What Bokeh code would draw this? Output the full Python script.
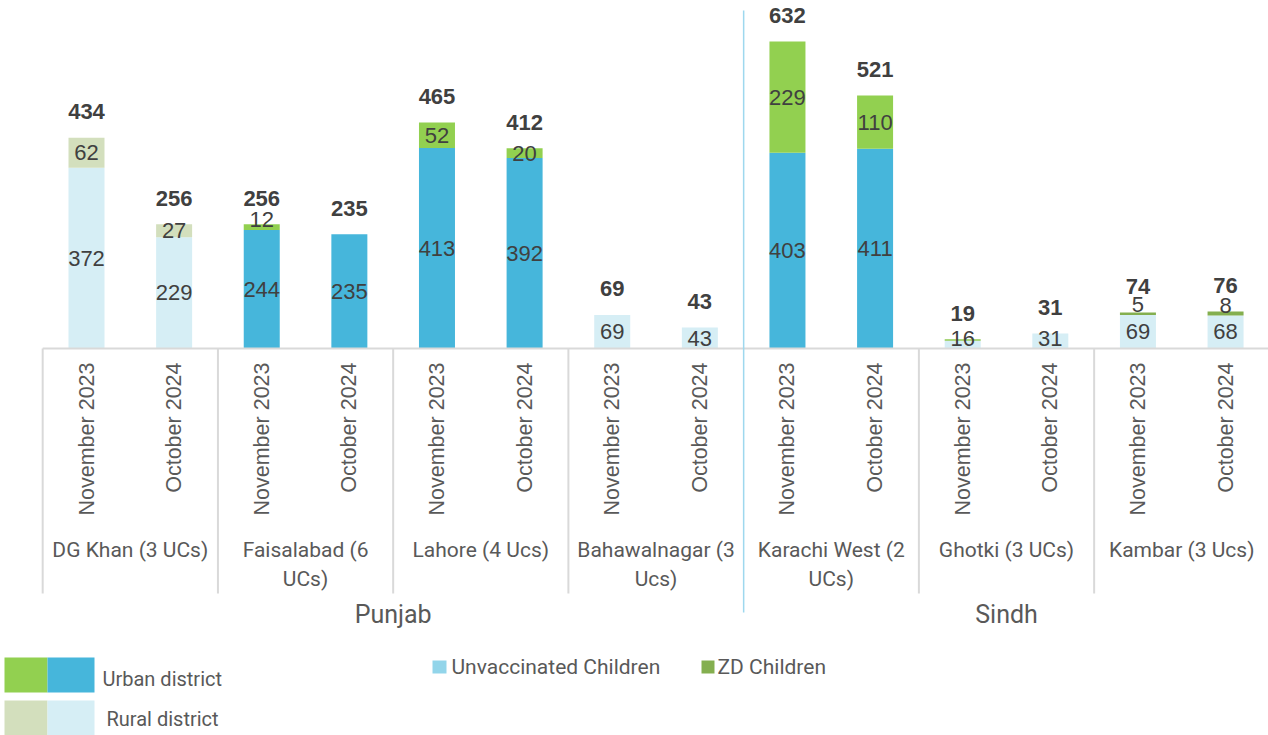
import math
from bokeh.plotting import figure
from bokeh.models import ColumnDataSource, Range1d
from bokeh.core.properties import value
from bokeh.embed import file_html
from bokeh.resources import INLINE

# ---------------- data ----------------
provinces = ["Punjab", "Sindh"]
districts = ["DG Khan (3 UCs)", "Faisalabad (6\nUCs)", "Lahore (4 Ucs)",
             "Bahawalnagar (3\nUcs)", "Karachi West (2\nUCs)", "Ghotki (3 UCs)",
             "Kambar (3 Ucs)"]
district_province = ["Punjab", "Punjab", "Punjab", "Punjab", "Sindh", "Sindh", "Sindh"]
district_type = ["Rural", "Urban", "Urban", "Rural", "Urban", "Rural", "Rural"]
periods = ["November 2023", "October 2024"]
unvaccinated = [372, 229, 244, 235, 413, 392, 69, 43, 403, 411, 16, 31, 69, 68]
zd_children = [62, 27, 12, 0, 52, 20, 0, 0, 229, 110, 3, 0, 5, 8]
totals = [434, 256, 256, 235, 465, 412, 69, 43, 632, 521, 19, 31, 74, 76]

# ---------------- styles ----------------
UNV_COLOR = {"Urban": "#46B6DB", "Rural": "#D6EEF5"}
zd_colors = ["#D3DFBD", "#92D050", "#92D050", "#D3DFBD", "#92D050", "#8CC84F", "#84AF4F"]
NUM_COLOR = "#404040"
AX_COLOR = "#595959"
SEP_COLOR = "#D9D9D9"

W, H = 1268, 735
SLOT = 87.62          # px per category slot
FIRST = 86.0          # page x of first bar centre
BASE = 348.0          # page y of the baseline
PPU = 307.0 / 632.0   # px per unit


def xd(px):
    return (px - FIRST) / SLOT + 0.5


def yd(py):
    return (BASE - py) / PPU


def dy(px):
    return px / PPU


p = figure(width=W, height=H,
           x_range=Range1d(xd(0), xd(W)),
           y_range=Range1d(yd(H), yd(0)),
           output_backend="svg", toolbar_location=None,
           x_axis_location=None, y_axis_location=None,
           min_border=0, outline_line_color=None)
p.grid.visible = False
p.background_fill_color = "white"
p.border_fill_color = "white"

# ---------------- bars ----------------
xs, unv, zd, tot, ucol, zcol, per = [], [], [], [], [], [], []
for d in range(len(districts)):
    for k in range(len(periods)):
        i = d * len(periods) + k
        xs.append(i + 0.5)
        unv.append(unvaccinated[i])
        zd.append(zd_children[i])
        tot.append(unvaccinated[i] + zd_children[i])
        ucol.append(UNV_COLOR[district_type[d]])
        zcol.append(zd_colors[d])
        per.append(periods[k])

src = ColumnDataSource(dict(x=xs, unv=unv, zd=zd, tot=tot, ucol=ucol, zcol=zcol))
BW = 36.0 / SLOT
p.vbar(x="x", bottom=0, top="unv", width=BW, fill_color="ucol", line_color=None, source=src)
p.vbar(x="x", bottom="unv", top="tot", width=BW, fill_color="zcol", line_color=None, source=src)

# axis line & separators
n = len(xs)
p.segment(x0=[0], y0=[0], x1=[n], y1=[0], line_color=SEP_COLOR, line_width=2)
sep_x, prov_x = [], []
prev = None
for d in range(len(districts)):
    if district_province[d] != prev and prev is not None:
        prov_x.append(d * len(periods))
    else:
        sep_x.append(d * len(periods))
    prev = district_province[d]
p.segment(x0=sep_x, y0=[0] * len(sep_x), x1=sep_x, y1=[yd(593)] * len(sep_x),
          line_color=SEP_COLOR, line_width=2)
p.segment(x0=prov_x, y0=[yd(10)] * len(prov_x), x1=prov_x, y1=[yd(612)] * len(prov_x),
          line_color="#9ED8EE", line_width=1.5)

# ---------------- value labels ----------------
num_font = value("Liberation Sans")
ul_y = [max(u / 2.0, dy(10)) for u in unv]
p.text(x=xs, y=ul_y, text=[str(u) for u in unv], text_font=num_font,
       text_font_size="22px", text_align="center", text_baseline="middle",
       text_color=NUM_COLOR)

zx, zy, zt = [], [], []
for x, u, z in zip(xs, unv, zd):
    if z >= 5:
        zx.append(x)
        zy.append(u + z / 2.0 if z >= 15 else u + dy(10))
        zt.append(str(z))
p.text(x=zx, y=zy, text=zt, text_font=num_font, text_font_size="22px",
       text_align="center", text_baseline="middle", text_color=NUM_COLOR)

p.text(x=xs, y=[t + dy(26) for t in tot], text=[str(t) for t in totals],
       text_font=num_font, text_font_size="22px", text_font_style="bold",
       text_align="center", text_baseline="middle", text_color=NUM_COLOR)

# ---------------- category labels ----------------
p.text(x=xs, y=[yd(362)] * n, text=per, angle=math.pi / 2,
       text_font=value("Liberation Sans"), text_font_size="21.5px",
       text_align="right", text_baseline="middle", text_color=AX_COLOR)

lab_font = value("Roboto")
dx1, dy1, dt1 = [], [], []
for d, name in enumerate(districts):
    cx = d * len(periods) + len(periods) / 2.0
    for j, line in enumerate(name.split("\n")):
        dx1.append(cx)
        dy1.append(yd(549 + 29 * j))
        dt1.append(line)
p.text(x=dx1, y=dy1, text=dt1, text_font=lab_font, text_font_size="21px",
       text_align="center", text_baseline="middle", text_color=AX_COLOR)

px_, pt_ = [], []
for prov in provinces:
    idx = [d for d in range(len(districts)) if district_province[d] == prov]
    lo = idx[0] * len(periods)
    hi = (idx[-1] + 1) * len(periods)
    px_.append((lo + hi) / 2.0)
    pt_.append(prov)
p.text(x=px_, y=[yd(614)] * len(px_), text=pt_, text_font=lab_font,
       text_font_size="25px", text_align="center", text_baseline="middle",
       text_color=AX_COLOR)

# ---------------- legends ----------------
p.quad(left=[xd(4), xd(47), xd(4), xd(47)], right=[xd(47), xd(94), xd(47), xd(94)],
       top=[yd(657), yd(657), yd(700), yd(700)], bottom=[yd(692), yd(692), yd(740), yd(740)],
       fill_color=["#92D050", "#46B6DB", "#D3DFBD", "#D6EEF5"], line_color=None)
p.text(x=[xd(102), xd(106)], y=[yd(678), yd(718)], text=["Urban district", "Rural district"],
       text_font=lab_font, text_font_size="20px", text_align="left",
       text_baseline="middle", text_color=AX_COLOR)

p.quad(left=[xd(432), xd(701)], right=[xd(446), xd(714)],
       top=[yd(660), yd(660)], bottom=[yd(673), yd(673)],
       fill_color=["#92D5EA", "#84AF4F"], line_color=None)
p.text(x=[xd(451), xd(717)], y=[yd(666), yd(666)],
       text=["Unvaccinated Children", "ZD Children"],
       text_font=lab_font, text_font_size="21px", text_align="left",
       text_baseline="middle", text_color=AX_COLOR)

open("out.html", "w").write(file_html(p, INLINE))
